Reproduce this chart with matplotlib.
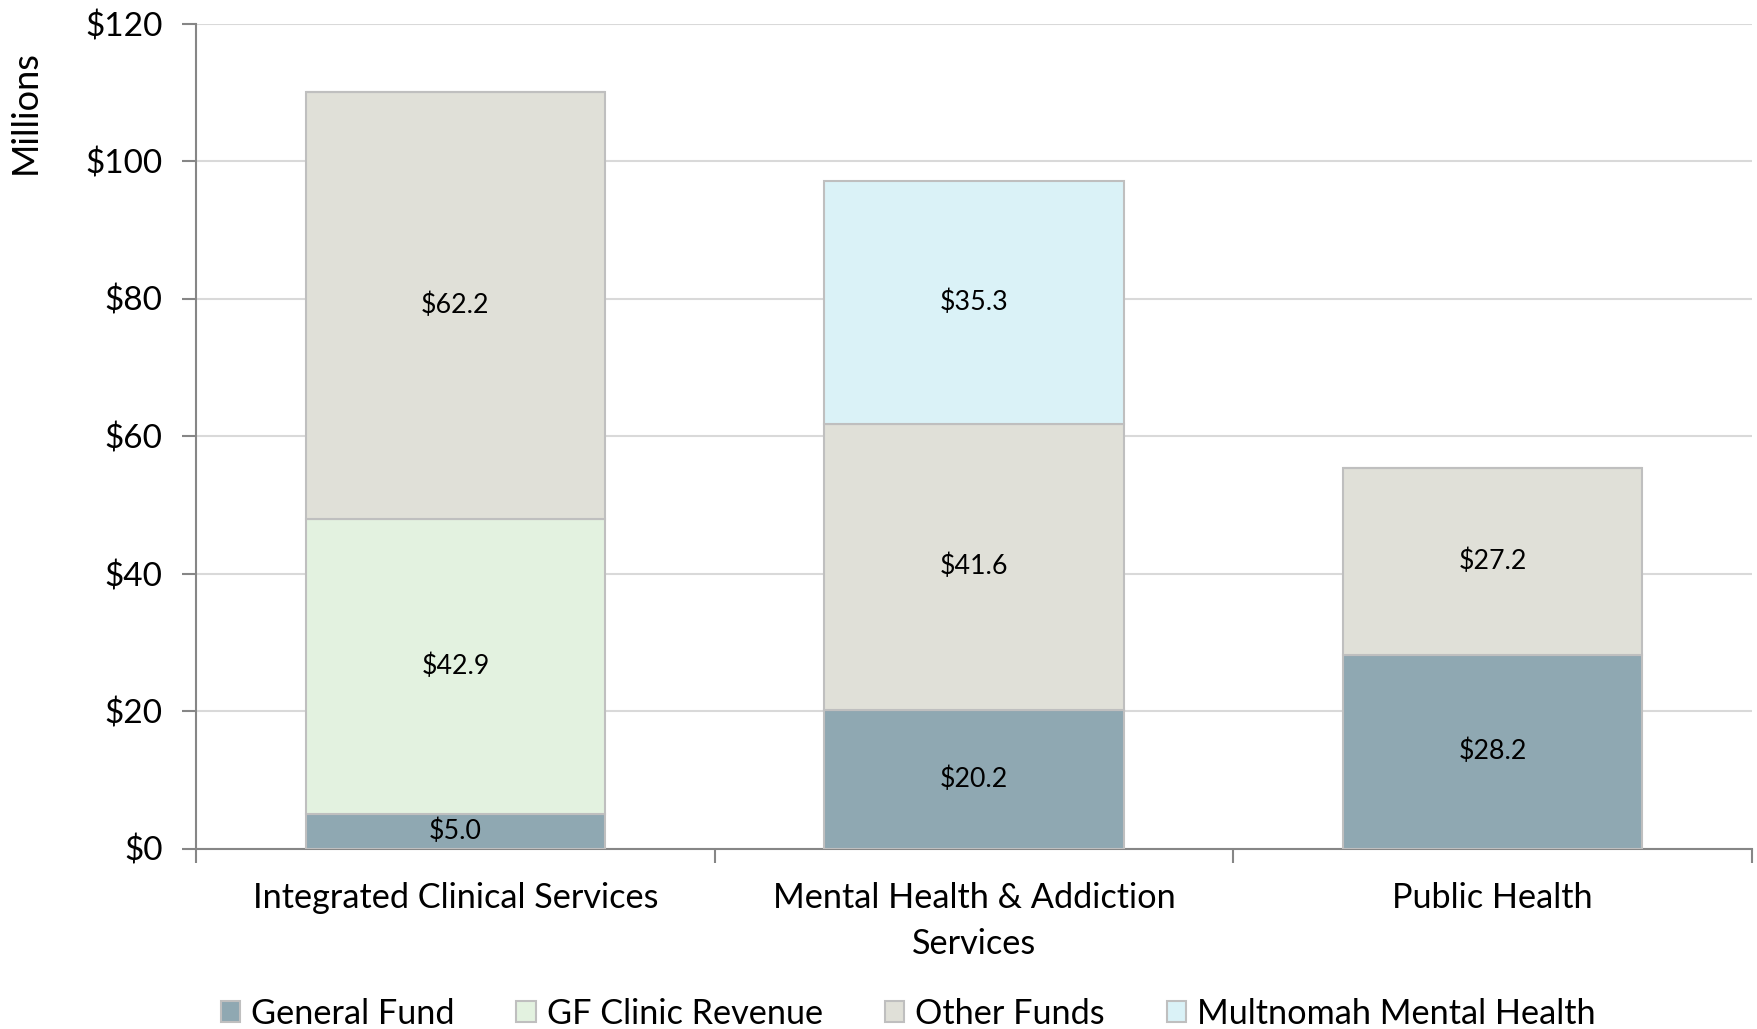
import matplotlib
matplotlib.use("Agg")
import matplotlib.pyplot as plt
import numpy as np
from matplotlib.patches import Patch

plt.rcParams['font.family'] = ['Lato', 'DejaVu Sans']

categories = ["Integrated Clinical Services", "Mental Health & Addiction\nServices", "Public Health"]
series_names = ["General Fund", "GF Clinic Revenue", "Other Funds", "Multnomah Mental Health"]
general_fund = [5.0, 20.2, 28.2]
gf_clinic = [42.9, 0.0, 0.0]
other_funds = [62.2, 41.6, 27.2]
multnomah = [0.0, 35.3, 0.0]
colors = ["#8FA8B2", "#E3F2E0", "#E0E0D8", "#DAF2F7"]
yticks = [0, 20, 40, 60, 80, 100, 120]

fig = plt.figure(figsize=(17.58, 10.29), dpi=100)
ax = fig.add_axes([196/1758, 1 - 848.5/1029, (1752-196)/1758, (848.5-23.5)/1029])

x = np.arange(len(categories))
width = 0.577
bottom = np.zeros(len(categories))
all_series = [general_fund, gf_clinic, other_funds, multnomah]
for vals, col in zip(all_series, colors):
    vals = np.array(vals)
    ax.bar(x, vals, width, bottom=bottom, color=col, edgecolor="#BFBFBF", linewidth=1.5, zorder=3)
    for xi, v, b in zip(x, vals, bottom):
        if v > 0:
            ax.text(xi, b + v / 2, f"${v:.1f}", ha="center", va="center", fontsize=19.3, color="black", zorder=4)
    bottom += vals

ax.set_xlim(-0.5, 2.5)
ax.set_ylim(0, 120)
ax.set_yticks(yticks)
ax.set_yticklabels([f"${t}" for t in yticks], fontsize=24)
ax.set_xticks(x)
ax.set_xticklabels(categories, fontsize=24.7, linespacing=1.55)
ax.tick_params(axis='x', which='major', length=0, pad=24)
ax.set_xticks([-0.5, 0.5, 1.5, 2.5], minor=True)
ax.tick_params(axis='x', which='minor', length=10, color="#868686", width=1.5)
ax.tick_params(axis='y', length=10, color="#868686", width=1.5, pad=14)
ax.grid(axis='y', color="#D9D9D9", linewidth=1.5, zorder=0)
for s in ["top", "right"]:
    ax.spines[s].set_visible(False)
for s in ["left", "bottom"]:
    ax.spines[s].set_color("#868686")
    ax.spines[s].set_linewidth(1.5)

fig.text(25/1758, 1 - 112/1029, "Millions", rotation=90, ha="center", va="center", fontsize=26)

handles = [Patch(facecolor=c, edgecolor="#BFBFBF", linewidth=1.5) for c in colors]
fig.legend(handles, series_names, loc="center", bbox_to_anchor=(0.5166, 1 - 1014/1029), ncol=4,
           frameon=False, fontsize=24.7, handlelength=0.56, handleheight=0.56, columnspacing=1.8,
           handletextpad=0.33, borderpad=0)

fig.savefig("out.png", dpi=100)
